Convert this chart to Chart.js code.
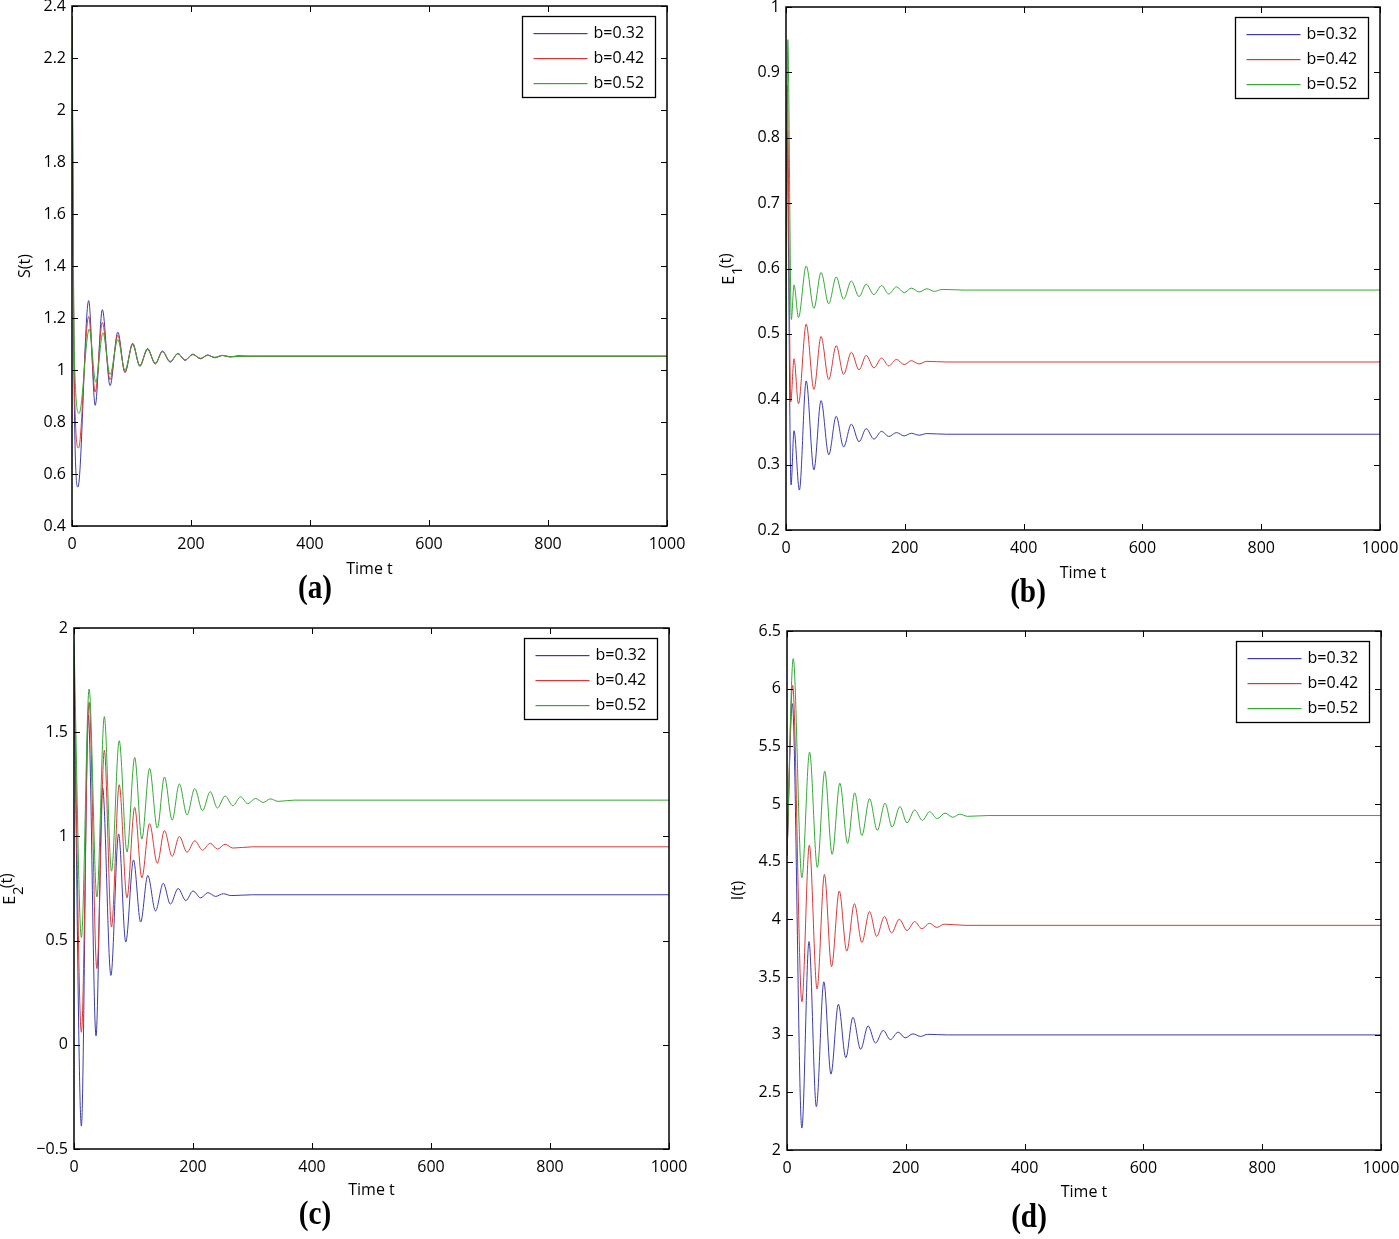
<!DOCTYPE html>
<html>
<head>
<meta charset="utf-8">
<script src="https://cdn.jsdelivr.net/npm/chart.js@4.4.1/dist/chart.umd.min.js"></script>
<style>
html,body{margin:0;padding:0;background:#fff;width:1399px;height:1239px;overflow:hidden}
canvas{position:absolute;left:0;top:0}
</style>
</head>
<body>
<canvas id="cA" width="1399" height="1239"></canvas>
<canvas id="cB" width="1399" height="1239"></canvas>
<canvas id="cC" width="1399" height="1239"></canvas>
<canvas id="cD" width="1399" height="1239"></canvas>
<script>
// ---------- categories / tick labels ----------
const seriesLabels = ['b=0.32', 'b=0.42', 'b=0.52'];
const xTicks = [0, 200, 400, 600, 800, 1000];
const yTicksS  = [0.4, 0.6, 0.8, 1, 1.2, 1.4, 1.6, 1.8, 2, 2.2, 2.4];
const yTicksE1 = [0.2, 0.3, 0.4, 0.5, 0.6, 0.7, 0.8, 0.9, 1];
const yTicksE2 = [-0.5, 0, 0.5, 1, 1.5, 2];
const yTicksI  = [2, 2.5, 3, 3.5, 4, 4.5, 5, 5.5, 6, 6.5];

// ---------- (a) S(t) ----------
const S_t_032 = [0, 4, 10, 28, 39, 51, 64, 77, 89, 102, 114, 127, 140, 152, 165, 178, 190, 203, 216, 228, 240, 253, 266, 279, 300, 1000];
const S_v_032 = [2.36, 0.85, 0.55, 1.267, 0.864, 1.232, 0.94, 1.146, 0.99, 1.103, 1.014, 1.083, 1.023, 1.073, 1.03, 1.064, 1.037, 1.061, 1.043, 1.058, 1.047, 1.056, 1.05, 1.055, 1.053, 1.053];
const S_t_042 = [0, 4, 11, 28, 39, 51, 64, 77, 89, 102, 114, 127, 140, 152, 165, 178, 190, 203, 216, 228, 240, 253, 266, 300, 1000];
const S_v_042 = [2.36, 0.95, 0.70, 1.206, 0.915, 1.183, 0.963, 1.134, 0.993, 1.1, 1.016, 1.08, 1.025, 1.071, 1.032, 1.063, 1.038, 1.06, 1.044, 1.057, 1.048, 1.056, 1.051, 1.053, 1.053];
const S_t_052 = [0, 4, 12, 29, 40, 52, 64, 77, 89, 102, 114, 127, 140, 152, 165, 178, 190, 203, 216, 228, 240, 253, 266, 300, 1000];
const S_v_052 = [2.36, 1.05, 0.833, 1.157, 0.953, 1.143, 0.983, 1.117, 1.0, 1.097, 1.018, 1.078, 1.027, 1.07, 1.033, 1.062, 1.039, 1.059, 1.045, 1.056, 1.049, 1.056, 1.051, 1.053, 1.053];

// ---------- (b) E1(t) ----------
const E1_t_032 = [0, 1.5, 8.5, 13.5, 22.5, 34, 47, 59, 72, 84.5, 97, 110, 123, 135, 148, 161, 173, 186, 199, 211, 224, 237, 270, 1000];
const E1_v_032 = [0.40, 0.81, 0.269, 0.352, 0.261, 0.428, 0.292, 0.398, 0.315, 0.374, 0.327, 0.362, 0.335, 0.355, 0.339, 0.351, 0.343, 0.349, 0.344, 0.348, 0.345, 0.3475, 0.3465, 0.3465];
const E1_t_042 = [0, 2, 8, 13.5, 21, 34, 47, 59, 72, 84.5, 97, 110, 123, 135, 148, 161, 173, 186, 199, 211, 224, 237, 270, 1000];
const E1_v_042 = [0.40, 0.88, 0.396, 0.462, 0.393, 0.515, 0.415, 0.496, 0.43, 0.482, 0.438, 0.472, 0.445, 0.467, 0.448, 0.463, 0.451, 0.461, 0.453, 0.459, 0.454, 0.458, 0.457, 0.457];
const E1_t_052 = [0, 3, 9, 13.5, 21, 34, 47, 59, 72, 84.5, 97, 110, 123, 135, 148, 161, 173, 186, 199, 211, 224, 237, 250, 263, 300, 1000];
const E1_v_052 = [0.40, 0.95, 0.522, 0.575, 0.525, 0.604, 0.539, 0.594, 0.546, 0.587, 0.553, 0.581, 0.557, 0.576, 0.56, 0.574, 0.561, 0.572, 0.563, 0.57, 0.564, 0.569, 0.565, 0.568, 0.567, 0.567];

// ---------- (c) E2(t) ----------
const E2_t_032 = [0, 12.4, 24, 37, 48, 62, 75, 87, 100, 112, 124, 137, 150, 162, 175, 188, 200, 213, 225, 238, 251, 264, 300, 1000];
const E2_v_032 = [1.80, -0.39, 1.583, 0.043, 1.235, 0.333, 1.012, 0.493, 0.887, 0.589, 0.813, 0.642, 0.775, 0.675, 0.75, 0.692, 0.738, 0.705, 0.73, 0.712, 0.725, 0.716, 0.72, 0.72];
const E2_t_042 = [0, 12.4, 25.4, 38.4, 51, 63, 76, 89, 102, 114, 127, 140, 152, 165, 177, 190, 203, 216, 229, 241, 254, 267, 300, 1000];
const E2_v_042 = [1.83, 0.06, 1.644, 0.366, 1.414, 0.565, 1.248, 0.705, 1.139, 0.801, 1.061, 0.871, 1.028, 0.904, 1.0, 0.924, 0.979, 0.934, 0.967, 0.939, 0.962, 0.944, 0.95, 0.95];
const E2_t_052 = [0, 12.4, 25.4, 38.4, 51, 63, 76, 89, 102, 114, 127, 140, 152, 165, 177, 190, 203, 216, 229, 241, 254, 267, 280, 292, 305, 318, 330, 343, 370, 1000];
const E2_v_052 = [1.94, 0.515, 1.707, 0.709, 1.575, 0.833, 1.459, 0.925, 1.379, 0.987, 1.326, 1.04, 1.285, 1.078, 1.252, 1.103, 1.23, 1.123, 1.215, 1.136, 1.194, 1.147, 1.19, 1.157, 1.182, 1.163, 1.18, 1.168, 1.174, 1.174];

// ---------- (d) I(t) ----------
const I_t_032 = [0, 9, 25, 37, 49.4, 62, 74, 86.5, 99, 111, 124, 136.5, 149, 162, 174, 187, 199, 212, 225, 237, 270, 1000];
const I_v_032 = [4.55, 5.87, 2.19, 3.807, 2.375, 3.458, 2.658, 3.264, 2.80, 3.151, 2.873, 3.076, 2.927, 3.037, 2.957, 3.022, 2.972, 3.007, 2.985, 3.003, 2.998, 2.998];
const I_t_042 = [0, 9.5, 25, 37.6, 50.6, 63, 75, 88, 100.6, 113.5, 126, 139, 151, 164, 176, 189, 202, 215, 227, 240, 252, 265, 300, 1000];
const I_v_042 = [4.55, 6.03, 3.285, 4.643, 3.396, 4.39, 3.59, 4.246, 3.724, 4.136, 3.799, 4.067, 3.852, 4.025, 3.882, 4.001, 3.903, 3.98, 3.918, 3.966, 3.93, 3.958, 3.948, 3.948];
const I_t_052 = [0, 10.5, 25, 38, 51, 63.5, 76, 89, 102, 114, 126, 139, 152, 165, 177, 190, 202, 215, 228, 240, 253, 266, 279, 291, 304, 340, 1000];
const I_v_052 = [4.55, 6.26, 4.36, 5.45, 4.45, 5.285, 4.563, 5.18, 4.658, 5.097, 4.727, 5.046, 4.772, 5.007, 4.80, 4.978, 4.837, 4.948, 4.858, 4.933, 4.873, 4.921, 4.885, 4.912, 4.893, 4.9, 4.9];

// ---------- styling ----------
const COLORS = ['#3c3ca8', '#d63a3a', '#35a835'];
const FONT = "'Open Sans', 'Noto Sans', sans-serif";
const SERIF = "'Liberation Serif', 'DejaVu Serif', serif";
const W = 1399, H = 1239, XH = 30;

const panels = [
  {canvas:'cA', area:[72, 6, 667, 526], yMin:0.4, yMax:2.4, yTicks:yTicksS,
   series:[[S_t_032,S_v_032],[S_t_042,S_v_042],[S_t_052,S_v_052]],
   yTitle:['S(t)','',''], yTitleX:25, xTitleDy:43, label:'(a)', labelX:315, labelY:589},
  {canvas:'cB', area:[786, 7, 1380, 530], yMin:0.2, yMax:1, yTicks:yTicksE1,
   series:[[E1_t_032,E1_v_032],[E1_t_042,E1_v_042],[E1_t_052,E1_v_052]],
   yTitle:['E','1','(t)'], yTitleX:729, xTitleDy:43, label:'(b)', labelX:1028, labelY:593},
  {canvas:'cC', area:[74, 628, 669, 1149], yMin:-0.5, yMax:2, yTicks:yTicksE2,
   series:[[E2_t_032,E2_v_032],[E2_t_042,E2_v_042],[E2_t_052,E2_v_052]],
   yTitle:['E','2','(t)'], yTitleX:10, xTitleDy:41, label:'(c)', labelX:315, labelY:1215},
  {canvas:'cD', area:[787, 631, 1381, 1150], yMin:2, yMax:6.5, yTicks:yTicksI,
   series:[[I_t_032,I_v_032],[I_t_042,I_v_042],[I_t_052,I_v_052]],
   yTitle:['I(t)','',''], yTitleX:738, xTitleDy:42, label:'(d)', labelX:1029, labelY:1218}
];

function fmt(v){ return String(Math.round(v*100)/100).replace('-', '\u2212'); }

function makeDecor(p){
  return {
    id:'decor_'+p.canvas,
    afterDraw(chart){
      const ctx = chart.ctx, a = chart.chartArea, xs = chart.scales.x, ys = chart.scales.y;
      ctx.save();
      // ticks inside, all four sides
      ctx.strokeStyle = '#000'; ctx.lineWidth = 1;
      const TL = 6;
      ctx.beginPath();
      xs.ticks.forEach(t => {
        const px = Math.round(xs.getPixelForValue(t.value)) + 0.5;
        ctx.moveTo(px, a.bottom); ctx.lineTo(px, a.bottom - TL);
        ctx.moveTo(px, a.top); ctx.lineTo(px, a.top + TL);
      });
      ys.ticks.forEach(t => {
        const py = Math.round(ys.getPixelForValue(t.value)) + 0.5;
        ctx.moveTo(a.left, py); ctx.lineTo(a.left + TL, py);
        ctx.moveTo(a.right, py); ctx.lineTo(a.right - TL, py);
      });
      ctx.stroke();
      // axes box
      ctx.lineWidth = 1.5;
      ctx.strokeRect(a.left, a.top, a.right - a.left, a.bottom - a.top);

      // legend box
      const bw = 133, bh = 81;
      const bx = Math.round(a.right - 12 - bw) + 0.5, by = Math.round(a.top + 10) + 0.5;
      ctx.fillStyle = '#fff';
      ctx.fillRect(bx, by, bw, bh);
      ctx.lineWidth = 1.3; ctx.strokeStyle = '#000';
      ctx.strokeRect(bx, by, bw, bh);
      ctx.font = '16px ' + FONT;
      ctx.textBaseline = 'middle'; ctx.textAlign = 'left';
      chart.data.datasets.forEach((ds, i) => {
        const yy = Math.round(by + 16 + i * 25);
        ctx.fillStyle = ds.borderColor;
        ctx.fillRect(bx + 11, yy, 54, 1.2);
        ctx.fillStyle = '#000';
        ctx.fillText(ds.label, bx + 71, yy + 0.5);
      });

      // x title
      ctx.fillStyle = '#000';
      ctx.font = '16px ' + FONT;
      ctx.textAlign = 'center'; ctx.textBaseline = 'middle';
      ctx.fillText('Time t', (a.left + a.right) / 2, a.bottom + p.xTitleDy);

      // y title (rotated, with subscript)
      const [m, sub, tail] = p.yTitle;
      ctx.save();
      ctx.translate(p.yTitleX, (a.top + a.bottom) / 2);
      ctx.rotate(-Math.PI / 2);
      ctx.font = '16px ' + FONT;
      ctx.textAlign = 'left'; ctx.textBaseline = 'middle';
      const w1 = ctx.measureText(m).width;
      ctx.font = '15px ' + FONT;
      const w2 = sub ? ctx.measureText(sub).width : 0;
      ctx.font = '16px ' + FONT;
      const w3 = tail ? ctx.measureText(tail).width : 0;
      let x0 = -(w1 + w2 + w3) / 2;
      ctx.fillText(m, x0, 0); x0 += w1;
      if (sub) { ctx.font = '15px ' + FONT; ctx.fillText(sub, x0 + 1, 9); x0 += w2 + 1; }
      if (tail) { ctx.font = '16px ' + FONT; ctx.fillText(tail, x0 - 2, -3); }
      ctx.restore();

      // panel label
      ctx.save();
      ctx.translate(p.labelX, p.labelY);
      ctx.scale(0.86, 1);
      ctx.font = 'bold 34px ' + SERIF;
      ctx.textAlign = 'center'; ctx.textBaseline = 'middle';
      ctx.fillStyle = '#000';
      ctx.fillText(p.label, 0, 0);
      ctx.restore();

      ctx.restore();
    }
  };
}

function makeChart(p){
  const [L, T, R, B] = p.area;
  const datasets = p.series.map((s, i) => ({
    label: seriesLabels[i],
    data: s[0].map((x, k) => ({x: x, y: s[1][k]})),
    borderColor: COLORS[i],
    borderWidth: 1,
    pointRadius: 0,
    fill: false,
    order: 2 - i,            // last series drawn on top, as in the reference
    cubicInterpolationMode: 'monotone'
  }));
  const tickFont = {family: FONT, size: 16};
  new Chart(document.getElementById(p.canvas), {
    type: 'line',
    data: {datasets},
    options: {
      responsive: false, animation: false, devicePixelRatio: 1,
      events: [],
      layout: {padding: {left: 0, top: T, right: W - R, bottom: H - B - XH}},
      plugins: {legend: {display: false}, tooltip: {enabled: false}},
      scales: {
        x: {
          type: 'linear', min: 0, max: 1000,
          afterBuildTicks: s => { s.ticks = xTicks.map(v => ({value: v})); },
          afterFit: s => { s.height = XH; s.paddingLeft = 0; s.paddingRight = 0; },
          grid: {display: false, drawTicks: false},
          border: {display: false},
          ticks: {padding: 9, font: tickFont, color: '#000', maxRotation: 0, autoSkip: false, callback: v => fmt(v)}
        },
        y: {
          type: 'linear', min: p.yMin, max: p.yMax,
          afterBuildTicks: s => { s.ticks = p.yTicks.map(v => ({value: v})); },
          afterFit: s => { s.width = L; s.paddingTop = 0; s.paddingBottom = 0; },
          grid: {display: false, drawTicks: false},
          border: {display: false},
          ticks: {padding: 6, font: tickFont, color: '#000', autoSkip: false, callback: v => fmt(v)}
        }
      }
    },
    plugins: [makeDecor(p)]
  });
}

panels.forEach(makeChart);
</script>
</body>
</html>
